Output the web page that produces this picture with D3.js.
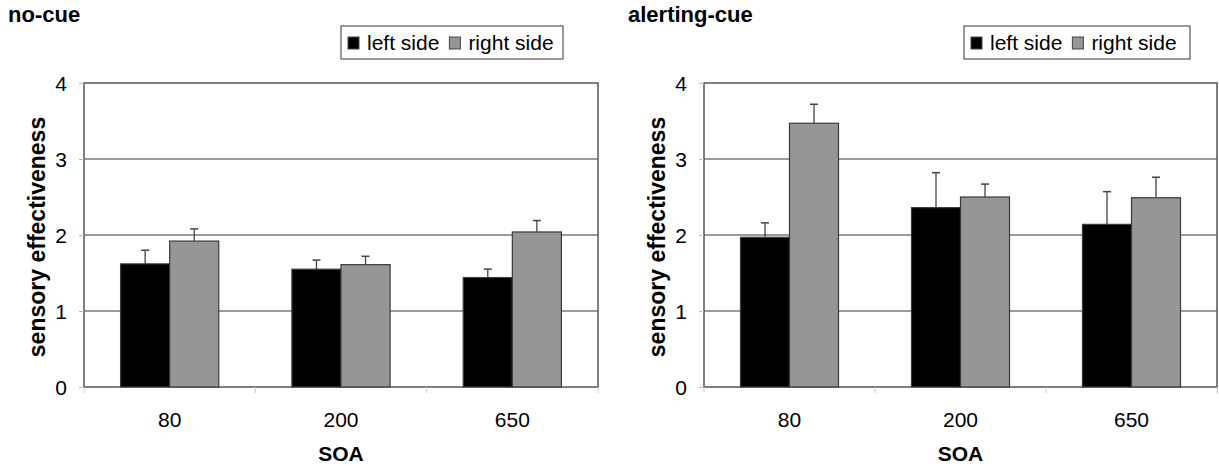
<!DOCTYPE html>
<html><head><meta charset="utf-8">
<script src="https://cdn.jsdelivr.net/npm/d3@7"></script>
<style>
body{margin:0;background:#fff;}
svg text{font-family:"Liberation Sans",Arial,sans-serif;fill:#000;}
</style></head>
<body><svg id="c" width="1219" height="466"></svg>
<script>
const categories = ["80", "200", "650"];
const seriesNames = ["left side", "right side"];
const yTicks = [0, 1, 2, 3, 4];
const panelTitles = ["no-cue", "alerting-cue"];
// no-cue
const noCueLeft = [1.62, 1.55, 1.44];
const noCueRight = [1.92, 1.61, 2.04];
const noCueLeftErr = [0.18, 0.12, 0.11];
const noCueRightErr = [0.16, 0.11, 0.15];
// alerting-cue
const alertLeft = [1.97, 2.36, 2.14];
const alertRight = [3.47, 2.50, 2.49];
const alertLeftErr = [0.19, 0.46, 0.43];
const alertRightErr = [0.25, 0.17, 0.27];

const fills = ["#000000", "#969696"];
const svg = d3.select("#c");

const panels = [
  {title: panelTitles[0], vals: [noCueLeft, noCueRight], errs: [noCueLeftErr, noCueRightErr],
   x0: 84, x1: 598, titleX: 8, legX: 341, legW: 222, yLabX: 37},
  {title: panelTitles[1], vals: [alertLeft, alertRight], errs: [alertLeftErr, alertRightErr],
   x0: 704, x1: 1217, titleX: 628, legX: 964, legW: 226, yLabX: 657}
];
const yTop = 83, yBot = 387;

panels.forEach(p => {
  const g = svg.append("g");
  const y = d3.scaleLinear().domain([0, 4]).range([yBot, yTop]);
  const x = d3.scaleBand().domain(categories).range([p.x0, p.x1]);
  const groupW = x.bandwidth() * 0.573;
  const xs = d3.scaleBand().domain(seriesNames).range([0, groupW]);

  // title
  g.append("text").attr("x", p.titleX).attr("y", 22).attr("font-size", 22)
    .attr("font-weight", "bold").text(p.title);

  // gridlines
  g.selectAll("line.grid").data(yTicks.filter(t => t > 0 && t < 4)).join("line")
    .attr("x1", p.x0).attr("x2", p.x1).attr("y1", d => y(d)).attr("y2", d => y(d))
    .attr("stroke", "#7a7a7a").attr("stroke-width", 1.5);

  // plot border
  g.append("rect").attr("x", p.x0).attr("y", yTop).attr("width", p.x1 - p.x0).attr("height", yBot - yTop)
    .attr("fill", "none").attr("stroke", "#555").attr("stroke-width", 1.5);

  // y axis
  const ya = d3.axisLeft(y).tickValues(yTicks).tickSize(5).tickPadding(12).tickFormat(d3.format("d"));
  const yg = g.append("g").attr("transform", `translate(${p.x0},0)`).call(ya);
  yg.select(".domain").remove();
  yg.selectAll(".tick line").attr("stroke", "#bbb");
  yg.selectAll(".tick text").attr("font-size", 21).attr("dy", "0.36em")
    .style("font-family", "Liberation Sans, Arial, sans-serif").attr("fill", "#111");

  // x axis ticks at band boundaries
  const bounds = categories.map(c => x(c)).concat([p.x1]);
  g.selectAll("line.xt").data(bounds).join("line")
    .attr("x1", d => d).attr("x2", d => d).attr("y1", yBot).attr("y2", yBot + 6)
    .attr("stroke", "#ccc");
  g.selectAll("text.xl").data(categories).join("text")
    .attr("x", d => x(d) + x.bandwidth() / 2).attr("y", 427).attr("text-anchor", "middle")
    .attr("font-size", 21).attr("fill", "#111").text(d => d);

  // bars
  seriesNames.forEach((s, si) => {
    g.selectAll("rect.b" + si).data(categories).join("rect")
      .attr("x", d => x(d) + (x.bandwidth() - groupW) / 2 + xs(s))
      .attr("width", xs.bandwidth())
      .attr("y", (d, i) => y(p.vals[si][i]))
      .attr("height", (d, i) => yBot - y(p.vals[si][i]))
      .attr("fill", fills[si]).attr("stroke", "#3a3a3a").attr("stroke-width", 1.2);
    // error bars (upper only)
    const cx = d => x(d) + (x.bandwidth() - groupW) / 2 + xs(s) + xs.bandwidth() / 2;
    g.selectAll("line.e" + si).data(categories).join("line")
      .attr("x1", cx).attr("x2", cx)
      .attr("y1", (d, i) => y(p.vals[si][i]))
      .attr("y2", (d, i) => y(p.vals[si][i] + p.errs[si][i]))
      .attr("stroke", "#444").attr("stroke-width", 1.3);
    g.selectAll("line.c" + si).data(categories).join("line")
      .attr("x1", d => cx(d) - 4).attr("x2", d => cx(d) + 4)
      .attr("y1", (d, i) => y(p.vals[si][i] + p.errs[si][i]))
      .attr("y2", (d, i) => y(p.vals[si][i] + p.errs[si][i]))
      .attr("stroke", "#444").attr("stroke-width", 1.5);
  });

  // axis titles
  g.append("text").attr("x", (p.x0 + p.x1) / 2).attr("y", 461).attr("text-anchor", "middle")
    .attr("font-size", 21).attr("font-weight", "bold").text("SOA");
  g.append("text").attr("transform", `translate(${p.yLabX},${(yTop + yBot) / 2 + 2}) rotate(-90)`)
    .attr("text-anchor", "middle").attr("font-size", 23).attr("font-weight", "bold")
    .attr("dy", "0.35em").text("sensory effectiveness");

  // legend
  const lg = g.append("g").attr("transform", `translate(${p.legX},26)`);
  lg.append("rect").attr("width", p.legW).attr("height", 33).attr("fill", "#fff")
    .attr("stroke", "#555").attr("stroke-width", 1.2);
  let lx = 7;
  seriesNames.forEach((s, si) => {
    lg.append("rect").attr("x", lx).attr("y", 11).attr("width", 11).attr("height", 12)
      .attr("fill", fills[si]).attr("stroke", "#444").attr("stroke-width", 1);
    const t = lg.append("text").attr("x", lx + 19).attr("y", 24).attr("font-size", 21).text(s);
    lx += 19 + t.node().getComputedTextLength() + 10;
  });
});
</script></body></html>
